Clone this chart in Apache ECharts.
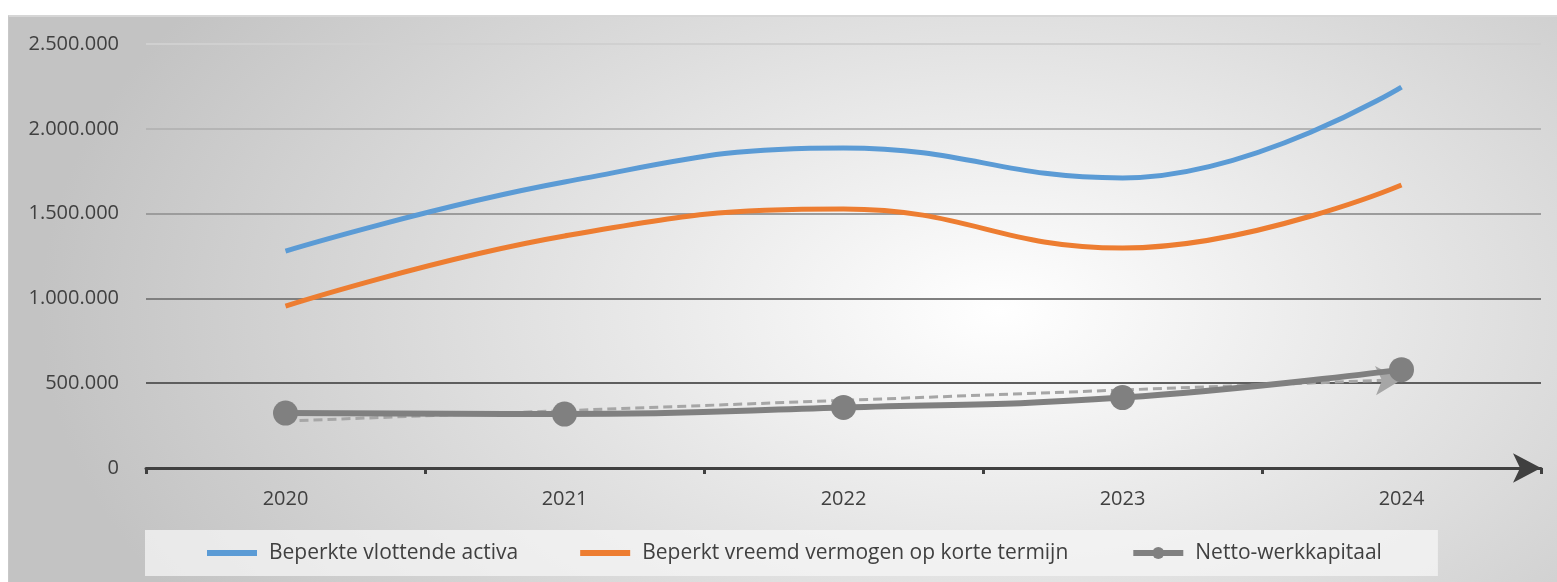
<!DOCTYPE html>
<html>
<head>
<meta charset="utf-8">
<script src="https://cdn.jsdelivr.net/npm/echarts@6/dist/echarts.min.js"></script>
<style>
  html, body { margin: 0; padding: 0; background: #ffffff; }
  #frame {
    position: absolute; left: 8px; top: 15px; width: 1549px; height: 567px;
    border-top: 2px solid #d6d6d6; border-left: 1px solid #c8c8c8;
    box-sizing: border-box;
    background: radial-gradient(ellipse 62% 100% at 64% 52%, #ffffff 0%, #c3c3c3 100%);
  }
  #chart { position: absolute; left: 0; top: 0; width: 1557px; height: 582px; }
</style>
</head>
<body>
<div id="frame"></div>
<div id="chart"></div>
<script>
// data
const years = ['2020', '2021', '2022', '2023', '2024']
const vlottendeActiva = [1279000, 1686000, 1887000, 1710000, 2246000]
const vreemdVermogen = [955000, 1368000, 1527000, 1297000, 1669000]
const nettoWerkkapitaal = [324000, 318000, 357000, 415000, 580000]
// dashed trend line (start / end values)
const trendStart = 277000
const trendEnd = 521000
const yTicks = [0, 500000, 1000000, 1500000, 2000000, 2500000]

const fmt = v => String(v).replace(/\B(?=(\d{3})+(?!\d))/g, '.')

// flat bar icon for the legend (keeps its aspect inside itemWidth x itemHeight)
const barIcon = 'path://M0,0H50V6H0Z'

const chart = echarts.init(document.getElementById('chart'), null, { renderer: 'canvas' })

const option = {
  animation: false,
  backgroundColor: 'transparent',
  textStyle: { fontFamily: 'Open Sans' },
  grid: { left: 146, right: 16, top: 44, bottom: 114, containLabel: false },
  legend: {
    left: 145,
    top: 530,
    padding: [12, 56, 12, 62],
    backgroundColor: 'rgba(245,245,245,0.75)',
    itemGap: 62,
    itemWidth: 50,
    itemHeight: 15,
    symbolKeepAspect: true,
    textStyle: { color: '#404040', fontSize: 21, lineHeight: 22, padding: [0, 0, 0, 7] },
    data: [
      { name: 'Beperkte vlottende activa', icon: barIcon },
      { name: 'Beperkt vreemd vermogen op korte termijn', icon: barIcon },
      { name: 'Netto-werkkapitaal', lineStyle: { width: 6 } }
    ]
  },
  xAxis: {
    type: 'category',
    data: years,
    boundaryGap: true,
    axisLine: {
      show: true,
      symbol: ['none', 'arrow'],
      symbolSize: [22, 28],
      lineStyle: { color: '#404040', width: 3 }
    },
    axisTick: { show: true, length: 6, lineStyle: { color: '#404040', width: 3 } },
    axisLabel: { color: '#404040', fontSize: 20, margin: 21 },
    splitLine: { show: false }
  },
  yAxis: {
    type: 'value',
    min: yTicks[0],
    max: yTicks[yTicks.length - 1],
    interval: yTicks[1] - yTicks[0],
    axisLine: { show: false },
    axisTick: { show: false },
    axisLabel: { color: '#404040', fontSize: 20, margin: 27, formatter: fmt },
    splitLine: {
      show: true,
      lineStyle: {
        width: 2,
        color: ['#404040', '#5e5e5e', '#7f7f7f', '#9c9c9c', '#b5b5b5', '#d0d0d0']
      }
    }
  },
  series: [
    {
      name: 'Beperkte vlottende activa',
      type: 'line',
      data: vlottendeActiva,
      smooth: 0.45,
      showSymbol: false,
      symbol: 'none',
      itemStyle: { color: '#5b9bd5' },
      lineStyle: { color: '#5b9bd5', width: 5 },
      z: 3
    },
    {
      name: 'Beperkt vreemd vermogen op korte termijn',
      type: 'line',
      data: vreemdVermogen,
      smooth: 0.45,
      showSymbol: false,
      symbol: 'none',
      itemStyle: { color: '#ed7d31' },
      lineStyle: { color: '#ed7d31', width: 5 },
      z: 3
    },
    {
      name: 'Netto-werkkapitaal',
      type: 'line',
      data: nettoWerkkapitaal,
      smooth: 0.45,
      symbol: 'circle',
      symbolSize: 25,
      itemStyle: { color: '#808080' },
      lineStyle: { color: '#808080', width: 6 },
      z: 4,
      markLine: {
        silent: true,
        symbol: ['none', 'arrow'],
        symbolSize: [22, 26],
        label: { show: false },
        lineStyle: { color: '#a6a6a6', width: 3, type: [9, 5] },
        z: 3,
        data: [[{ coord: [years[0], trendStart] }, { coord: [years[years.length - 1], trendEnd] }]]
      }
    }
  ]
}

chart.setOption(option)
</script>
</body>
</html>
